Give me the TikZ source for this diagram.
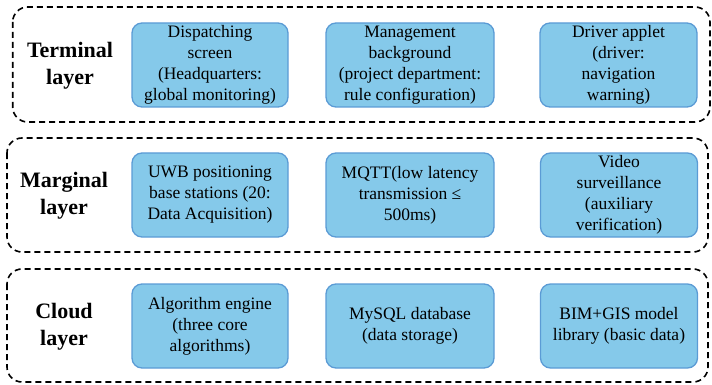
\documentclass[tikz,border=0pt]{standalone}
\usepackage{fontspec}
\setmainfont{LiberationSerif}[Extension=.ttf,UprightFont=*-Regular,BoldFont=*-Bold,ItalicFont=*-Italic,BoldItalicFont=*-BoldItalic]
\begin{document}
\begin{tikzpicture}[x=1pt,y=-1pt,
  layerbox/.style={draw=black,line width=1.6pt,dash pattern=on 6pt off 4pt,rounded corners=15pt},
  layerlabel/.style={font=\fontsize{22}{27}\selectfont\bfseries,align=center,inner sep=0pt},
  item/.style={draw=boxborder,fill=boxfill,line width=1.3pt,rounded corners=10pt,
    minimum width=156pt,minimum height=84pt,inner sep=0pt,align=center,
    font=\fontsize{17.5}{21}\selectfont}
]
\definecolor{boxfill}{HTML}{85C9EA}
\definecolor{boxborder}{HTML}{5B9BD5}
\useasboundingbox (0,0) rectangle (712,385);
% layer frames
\draw[layerbox] (12.7,7) rectangle (710,122);
\draw[layerbox] (7,138) rectangle (708,252);
\draw[layerbox] (7,269) rectangle (708,382);
% layer labels
\node[layerlabel] (lt) at (70,66) {Terminal\\layer};
\node[layerlabel] (lm) at (64,196) {Marginal\\layer};
\node[layerlabel] (lc) at (64,327) {Cloud\\layer};
% terminal
\node[item] (t1) at (210,65) {Dispatching\\screen\\(Headquarters:\\global monitoring)};
\node[item,minimum width=168pt] (t2) at (410,65) {Management\\background\\(project department:\\rule configuration)};
\node[item,minimum width=157pt] (t3) at (618.5,65) {Driver applet\\(driver:\\navigation\\warning)};
% marginal
\node[item] (m1) at (210,195) {UWB positioning\\base stations (20:\\Data Acquisition)};
\node[item,minimum width=168pt] (m2) at (410,195) {MQTT(low latency\\transmission \char"2264\\500ms)};
\node[item,minimum width=157pt] (m3) at (619,195) {Video\\surveillance\\(auxiliary\\verification)};
% cloud
\node[item] (c1) at (210,326) {Algorithm engine\\(three core\\algorithms)};
\node[item,minimum width=168pt] (c2) at (410,326) {MySQL database\\(data storage)};
\node[item,minimum width=157pt] (c3) at (619,326) {BIM+GIS model\\library (basic data)};
\end{tikzpicture}
\end{document}
